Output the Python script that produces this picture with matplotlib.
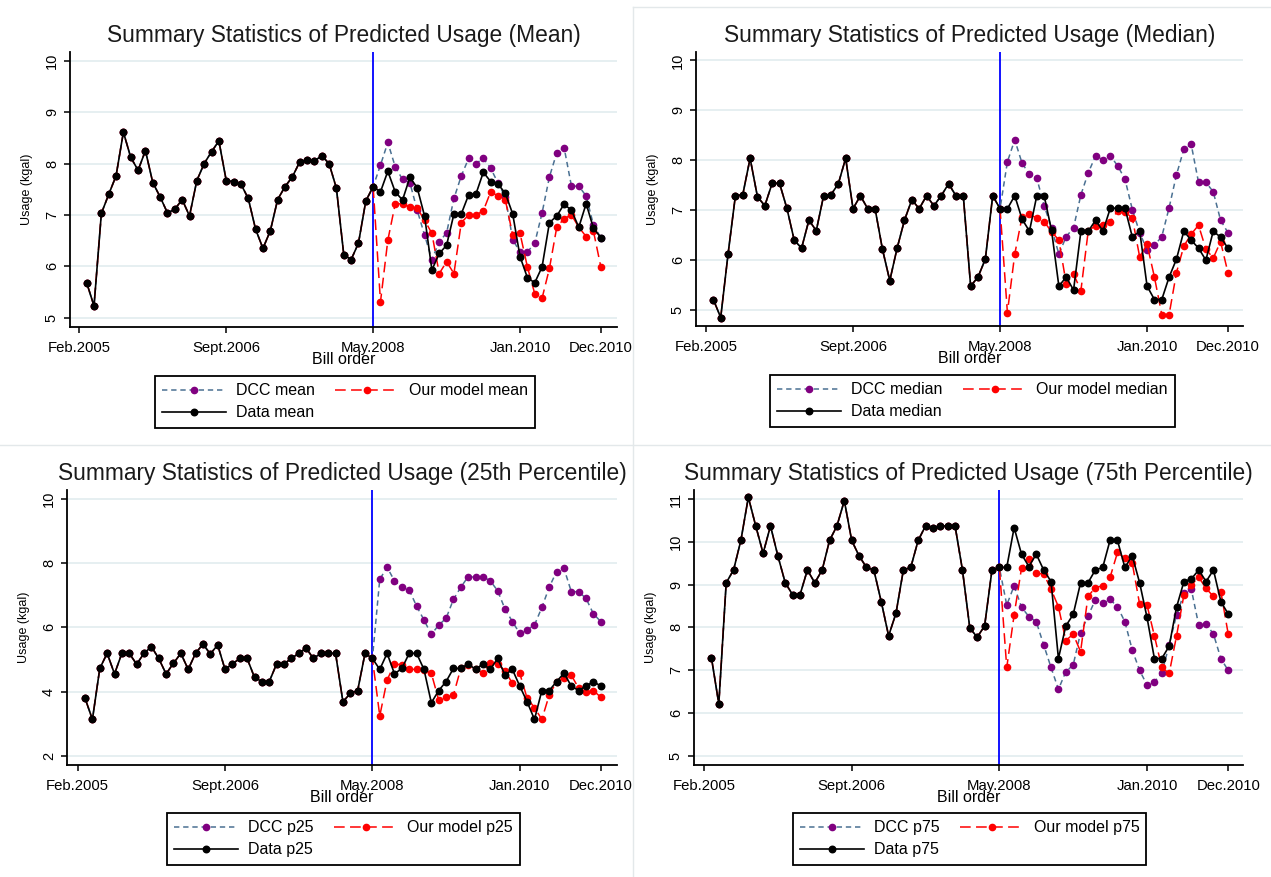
import matplotlib
matplotlib.use('Agg')
import matplotlib.pyplot as plt
from matplotlib.lines import Line2D

plt.rcParams['font.family'] = ['Liberation Sans', 'DejaVu Sans']

# bill order index 1..71, prediction starts at bill 40 (May.2008)
tick_pos    = [0, 20, 40, 60, 71]
tick_labels = ['Feb.2005', 'Sept.2006', 'May.2008', 'Jan.2010', 'Dec.2010']
split_bill  = 40

# ---- mean ----
data_mean = [5.68, 5.23, 7.03, 7.40, 7.76, 8.61, 8.12, 7.87, 8.25, 7.63,
             7.35, 7.04, 7.11, 7.30, 6.98, 7.67, 8.00, 8.23, 8.44, 7.67,
             7.65, 7.60, 7.32, 6.72, 6.35, 6.69, 7.30, 7.55, 7.74, 8.03,
             8.07, 8.05, 8.15, 8.00, 7.52, 6.23, 6.13, 6.45, 7.27, 7.55,
             7.45, 7.85, 7.45, 7.29, 7.73, 7.53, 6.98, 5.93, 6.25, 6.41,
             7.02, 7.02, 7.39, 7.41, 7.83, 7.65, 7.60, 7.42, 7.02, 6.19,
             5.78, 5.68, 5.99, 6.85, 6.98, 7.21, 7.09, 6.76, 7.22, 6.74,
             6.56]
dcc_mean = [7.55, 7.97, 8.41, 7.94, 7.69, 7.63, 7.09, 6.61, 6.13, 6.48,
            6.65, 7.32, 7.76, 8.10, 8.00, 8.10, 7.91, 7.62, 7.35, 6.52,
            6.28, 6.28, 6.45, 7.04, 7.74, 8.21, 8.31, 7.56, 7.56, 7.37,
            6.80, 6.56]
model_mean = [7.55, 5.31, 6.51, 7.21, 7.22, 7.15, 7.13, 6.90, 6.64, 5.86,
              6.09, 5.86, 6.85, 7.00, 7.00, 7.08, 7.45, 7.37, 7.29, 6.61,
              6.64, 5.99, 5.47, 5.38, 5.96, 6.76, 6.93, 7.00, 6.76, 6.58,
              6.68, 5.99]

# ---- median ----
data_median = [5.21, 4.85, 6.12, 7.29, 7.31, 8.04, 7.27, 7.09, 7.54, 7.54,
               7.04, 6.40, 6.24, 6.80, 6.59, 7.29, 7.31, 7.53, 8.04, 7.03,
               7.29, 7.03, 7.03, 6.22, 5.59, 6.24, 6.80, 7.21, 7.03, 7.29,
               7.09, 7.29, 7.53, 7.29, 7.29, 5.48, 5.66, 6.02, 7.29, 7.03,
               7.03, 7.29, 6.82, 6.58, 7.29, 7.29, 6.60, 5.48, 5.66, 5.40,
               6.58, 6.58, 6.80, 6.58, 7.04, 7.04, 7.04, 6.46, 6.58, 5.48,
               5.21, 5.21, 5.66, 6.02, 6.58, 6.40, 6.24, 6.00, 6.58, 6.46,
               6.24]
dcc_median = [7.03, 7.97, 8.41, 7.94, 7.72, 7.64, 7.09, 6.65, 6.12, 6.47,
              6.65, 7.31, 7.75, 8.09, 8.01, 8.09, 7.89, 7.62, 7.01, 6.55,
              6.20, 6.30, 6.47, 7.05, 7.71, 8.22, 8.32, 7.56, 7.56, 7.37,
              6.80, 6.55]
model_median = [7.03, 4.95, 6.12, 6.87, 6.92, 6.84, 6.77, 6.57, 6.40, 5.53,
                5.72, 5.39, 6.59, 6.69, 6.70, 6.77, 6.99, 6.97, 6.84, 6.06,
                6.32, 5.66, 4.91, 4.91, 5.75, 6.28, 6.52, 6.70, 6.22, 6.04,
                6.37, 5.75]

# ---- 25th percentile ----
data_p25 = [3.79, 3.13, 4.72, 5.19, 4.55, 5.19, 5.19, 4.85, 5.19, 5.40,
            5.03, 4.55, 4.88, 5.19, 4.69, 5.19, 5.48, 5.17, 5.45, 4.69,
            4.86, 5.03, 5.03, 4.44, 4.31, 4.31, 4.86, 4.86, 5.03, 5.19,
            5.35, 5.03, 5.19, 5.19, 5.19, 3.68, 3.94, 4.03, 5.19, 5.03,
            4.69, 5.19, 4.55, 4.72, 5.19, 5.19, 4.69, 3.65, 4.03, 4.31,
            4.72, 4.72, 4.86, 4.69, 4.86, 4.69, 5.03, 4.51, 4.69, 4.17,
            3.68, 3.13, 4.03, 4.03, 4.31, 4.57, 4.17, 4.03, 4.17, 4.31,
            4.17]
dcc_p25 = [5.03, 7.50, 7.87, 7.45, 7.25, 7.16, 6.66, 6.23, 5.78, 6.07,
           6.28, 6.87, 7.25, 7.58, 7.56, 7.58, 7.45, 7.14, 6.57, 6.18,
           5.81, 5.92, 6.07, 6.62, 7.25, 7.74, 7.84, 7.11, 7.11, 6.90,
           6.42, 6.18]
model_p25 = [5.03, 3.24, 4.36, 4.86, 4.83, 4.69, 4.69, 4.67, 4.57, 3.73,
             3.82, 3.89, 4.72, 4.83, 4.69, 4.59, 4.90, 4.86, 4.65, 4.25,
             4.57, 3.79, 3.50, 3.13, 3.89, 4.31, 4.41, 4.51, 4.10, 4.00,
             4.03, 3.82]

# ---- 75th percentile ----
data_p75 = [7.29, 6.21, 9.04, 9.34, 10.04, 11.04, 10.37, 9.73, 10.37, 9.67,
            9.04, 8.76, 8.76, 9.34, 9.04, 9.34, 10.03, 10.37, 10.96, 10.03,
            9.67, 9.40, 9.34, 8.60, 7.80, 8.33, 9.34, 9.40, 10.03, 10.37,
            10.33, 10.37, 10.37, 10.37, 9.34, 7.98, 7.77, 8.03, 9.34, 9.40,
            9.40, 10.33, 9.71, 9.42, 9.71, 9.34, 9.07, 7.27, 8.03, 8.30,
            9.04, 9.04, 9.34, 9.40, 10.04, 10.03, 9.40, 9.67, 9.04, 8.23,
            7.27, 7.27, 7.56, 8.47, 9.07, 9.13, 9.34, 9.07, 9.34, 8.60,
            8.31]
dcc_p75 = [9.40, 8.52, 8.97, 8.47, 8.25, 8.13, 7.59, 7.06, 6.55, 6.96,
           7.12, 7.87, 8.26, 8.64, 8.56, 8.65, 8.48, 8.13, 7.47, 6.99,
           6.65, 6.73, 6.92, 7.59, 8.29, 8.79, 8.89, 8.05, 8.08, 7.84,
           7.27, 6.99]
model_p75 = [9.40, 7.06, 8.29, 9.38, 9.59, 9.26, 9.25, 8.89, 8.48, 7.69,
             7.84, 7.43, 8.72, 8.93, 8.97, 9.17, 9.75, 9.61, 9.50, 8.54,
             8.52, 7.80, 7.06, 6.92, 7.80, 8.76, 8.99, 9.17, 8.91, 8.72,
             8.83, 7.84]

W, H = 1271, 877


def px_axes(fig, left, top, right, bottom):
    """axes from pixel box (top-left origin)"""
    return fig.add_axes([left / W, 1 - bottom / H, (right - left) / W, (bottom - top) / H])


def draw_panel(fig, box, title, stat, data, dcc, model, yticks, ylim, xlim, legend_xy):

    ax = px_axes(fig, *box)

    bills = list(range(1, len(data) + 1))
    # before the split the predictions are the data itself
    dcc_full   = data[:split_bill - 1] + dcc
    model_full = data[:split_bill - 1] + model

    ax.axvline(split_bill, color='#0000FF', lw=1.3, zorder=2)

    l_dcc, = ax.plot(bills, dcc_full, color='#4A7092', ls=(0, (3.5, 2.5)), lw=1.1,
                     marker='o', ms=4.5, mfc='#800080', mec='#800080', zorder=3)
    l_mod, = ax.plot(bills, model_full, color='#FF0000', ls=(0, (7, 3.5)), lw=1.1,
                     marker='o', ms=4.5, mfc='#FF0000', mec='#FF0000', zorder=4)
    l_dat, = ax.plot(bills, data, color='black', lw=1.2,
                     marker='o', ms=4.7, mfc='black', mec='black', zorder=5)

    ax.set_xlim(*xlim)
    ax.set_ylim(*ylim)
    ax.set_xticks(tick_pos)
    ax.set_xticklabels(tick_labels)
    ax.set_yticks(yticks)
    ax.set_yticklabels([str(t) for t in yticks])

    ax.tick_params(axis='x', length=4, width=1.1, labelsize=10.7, pad=6)
    ax.tick_params(axis='y', length=4, width=1.1, labelsize=10.5, pad=4, labelrotation=90)
    for lab in ax.get_yticklabels():
        lab.set_va('center')

    ax.grid(axis='y', color='#E6EFF1', lw=1.4)
    ax.set_axisbelow(True)
    for side in ['top', 'right']:
        ax.spines[side].set_visible(False)
    for side in ['left', 'bottom']:
        ax.spines[side].set_linewidth(1.3)

    ax.set_title(title, fontsize=16.4, pad=7, color='#1a1a1a')
    ax.set_xlabel('Bill order', fontsize=11.5)
    ax.set_ylabel('Usage (kgal)', fontsize=9)
    ax.xaxis.set_label_coords(0.5, -0.092)
    ax.yaxis.set_label_coords(-0.068, 0.5)

    leg = fig.legend([l_dcc, l_dat, l_mod],
                     ['DCC ' + stat, 'Data ' + stat, 'Our model ' + stat],
                     ncol=2, loc='upper left',
                     bbox_to_anchor=(legend_xy[0] / W, 1 - legend_xy[1] / H),
                     fontsize=11.5, handlelength=4.0, numpoints=1, fancybox=False,
                     framealpha=1, edgecolor='black', borderpad=0.45,
                     labelspacing=0.45, columnspacing=1.3, handletextpad=0.6,
                     borderaxespad=0)
    leg.get_frame().set_linewidth(1.3)

    return ax


def main():

    fig = plt.figure(figsize=(W / 100, H / 100), dpi=100)

    draw_panel(fig, (70, 52, 617, 327),
               'Summary Statistics of Predicted Usage (Mean)', 'mean',
               data_mean, dcc_mean, model_mean,
               [5, 6, 7, 8, 9, 10], (4.82, 10.17), (-1.27, 73.2), (155, 376))

    draw_panel(fig, (696, 52, 1243, 326),
               'Summary Statistics of Predicted Usage (Median)', 'median',
               data_median, dcc_median, model_median,
               [5, 6, 7, 8, 9, 10], (4.68, 10.17), (-1.36, 73.05), (770, 375))

    draw_panel(fig, (67, 490, 617, 765),
               'Summary Statistics of Predicted Usage (25th Percentile)', 'p25',
               data_p25, dcc_p25, model_p25,
               [2, 4, 6, 8, 10], (1.71, 10.28), (-1.45, 73.2), (167, 813))

    draw_panel(fig, (694, 490, 1243, 765),
               'Summary Statistics of Predicted Usage (75th Percentile)', 'p75',
               data_p75, dcc_p75, model_p75,
               [5, 6, 7, 8, 9, 10, 11], (4.78, 11.21), (-1.36, 73.0), (793, 813))

    # faint panel borders of the stitched figure
    border = '#E3E8EA'
    fig.add_artist(Line2D([0, 1], [1 - 445 / H, 1 - 445 / H], color=border, lw=1))
    fig.add_artist(Line2D([633 / W, 633 / W], [1 - 7 / H, 0], color=border, lw=1))
    fig.add_artist(Line2D([633 / W, 1], [1 - 7 / H, 1 - 7 / H], color=border, lw=1))

    fig.savefig('out.png', dpi=100)


if __name__ == '__main__':

    main()
